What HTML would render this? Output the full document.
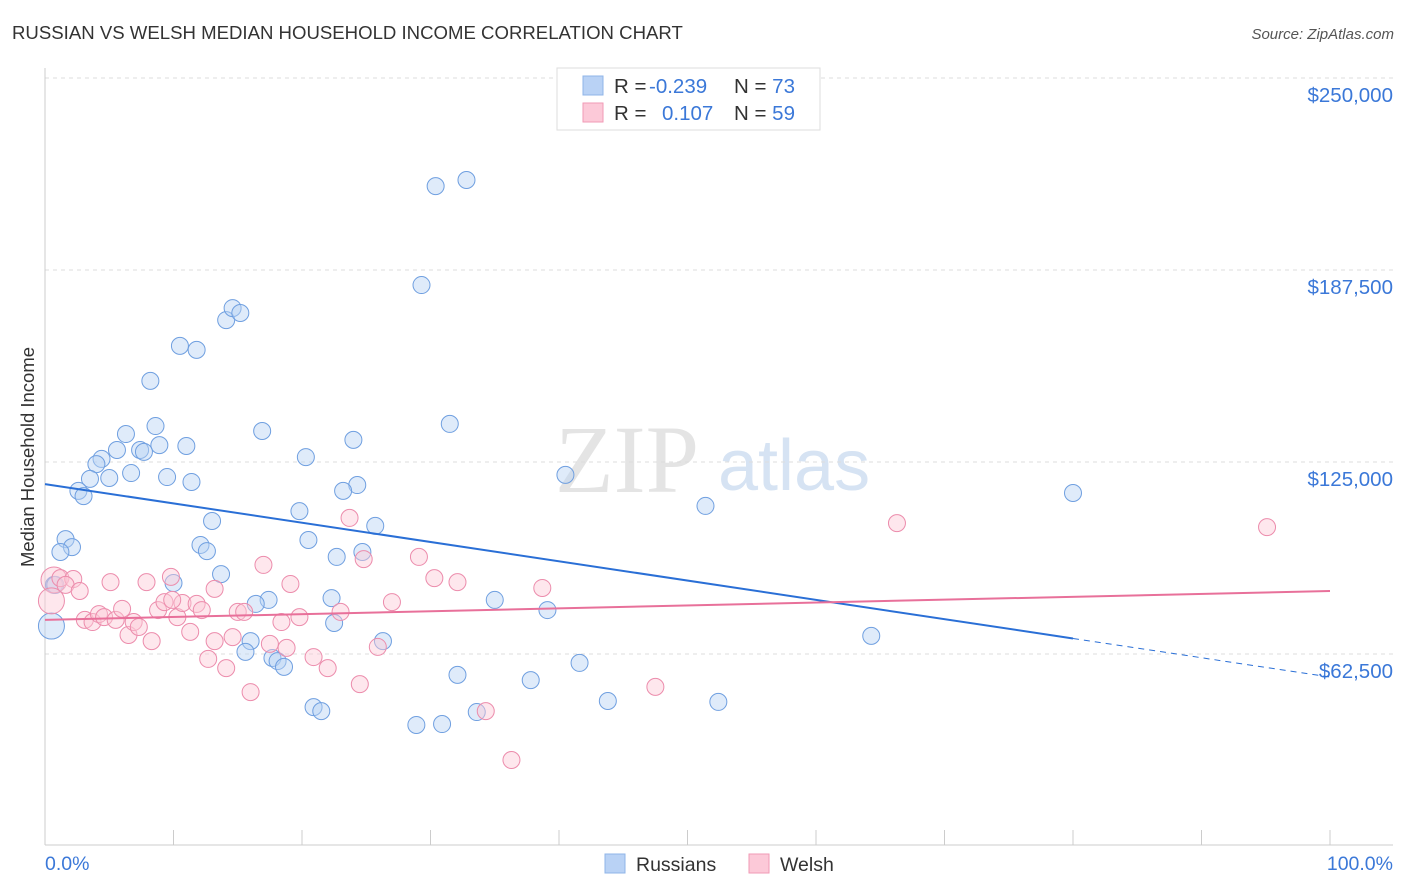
<!DOCTYPE html>
<html><head><meta charset="utf-8"><style>
body{margin:0;background:#fff;font-family:"Liberation Sans",sans-serif;}
</style></head><body>
<svg id="chart" width="1406" height="892" xmlns="http://www.w3.org/2000/svg" style="display:block">
<text x="12" y="39" font-size="18.6" fill="#333">RUSSIAN VS WELSH MEDIAN HOUSEHOLD INCOME CORRELATION CHART</text>
<text x="1394" y="39" font-size="15" fill="#555" text-anchor="end" font-style="italic">Source: ZipAtlas.com</text>
<g>
<text x="555" y="492" font-size="96" font-family="Liberation Serif,serif" fill="#e4e4e4">ZIP</text>
<text x="718" y="490" font-size="72" fill="#d6e3f3">atlas</text>
</g>
<g id="grid"></g>
<g id="axes"></g>
<text transform="translate(34,457) rotate(-90)" font-size="18.5" fill="#333" text-anchor="middle">Median Household Income</text>
<text x="45" y="870" font-size="19.5" fill="#3b78d8">0.0%</text>
<text x="1393" y="870" font-size="19.5" fill="#3b78d8" text-anchor="end">100.0%</text>
<g id="pts"></g>
<g id="lines"></g>
<g>
<rect x="557" y="68" width="263" height="62" fill="#fff" stroke="#ddd"/>
<rect x="583" y="76" width="20" height="19" fill="#b9d2f5" stroke="#8fb4e8"/>
<rect x="583" y="103" width="20" height="19" fill="#fcc9d8" stroke="#f19ab6"/>
<text x="614" y="93" font-size="20.5" fill="#333">R = <tspan x="649" fill="#3b78d8">-0.239</tspan><tspan x="734">N = </tspan><tspan fill="#3b78d8">73</tspan></text>
<text x="614" y="120" font-size="20.5" fill="#333">R = <tspan x="662" fill="#3b78d8">0.107</tspan><tspan x="734">N = </tspan><tspan fill="#3b78d8">59</tspan></text>
</g>
<g>
<rect x="605" y="854" width="20" height="19" fill="#b9d2f5" stroke="#8fb4e8"/>
<text x="636" y="871" font-size="19.5" fill="#333">Russians</text>
<rect x="749" y="854" width="20" height="19" fill="#fcc9d8" stroke="#f19ab6"/>
<text x="780" y="871" font-size="19.5" fill="#333">Welsh</text>
</g>
</svg>
<script>
const yTicks=[62.5,125,187.5,250];
const yTickLabels=["$62,500","$125,000","$187,500","$250,000"];
const rusX=[30.4,32.8,29.3,14.1,14.6,15.2,10.5,11.8,8.2,31.5,8.6,6.3,16.9,24.0,11.0,8.9,5.6,7.4,7.7,4.4,4.0,20.3,6.7,5.0,9.5,11.4,3.5,2.6,3.0,40.5,24.3,23.2,80.0,19.8,51.4,13.0,25.7,1.6,2.1,1.2,20.5,12.1,12.6,24.7,22.7,13.7,0.7,10.0,22.3,35.0,17.4,16.4,39.1,22.5,64.3,26.3,16.0,15.6,17.7,18.1,18.6,41.6,32.1,37.8,43.8,52.4,20.9,21.5,33.6,28.9,30.9,0.5,0.8];
const rusY=[214.8,216.8,182.6,171.2,175.1,173.5,162.8,161.5,151.4,137.4,136.7,134.1,135.1,132.2,130.2,130.5,128.9,128.9,128.3,126.0,124.3,126.6,121.4,119.8,120.1,118.5,119.5,115.6,113.9,120.8,117.5,115.6,114.9,109.0,110.7,105.8,104.2,99.9,97.3,95.7,99.6,98.0,96.0,95.7,94.1,88.5,85.0,85.6,80.7,80.1,80.1,78.8,76.8,72.6,68.4,66.7,66.7,63.2,61.2,60.2,58.3,59.6,55.7,54.0,47.2,46.9,45.2,43.9,43.6,39.4,39.7,71.6,85.0];
const welX=[0.7,0.5,1.2,2.2,1.6,2.7,5.1,7.9,9.8,13.2,17.0,19.1,23.7,24.8,29.1,30.3,32.1,38.7,66.3,95.1,27.0,3.1,3.7,4.2,4.6,5.5,6.0,6.5,6.9,7.3,8.3,8.8,9.3,10.3,10.7,11.3,11.8,12.2,12.7,13.2,14.1,14.6,15.0,15.5,16.0,17.5,18.4,18.8,19.8,20.9,22.0,23.0,24.5,25.9,34.3,36.3,47.5,9.9];
const welY=[86.6,79.8,87.2,86.9,85.0,83.0,85.9,85.9,87.6,83.7,91.5,85.3,106.8,93.4,94.1,87.2,85.9,84.0,105.1,103.8,79.4,73.6,72.9,75.5,74.5,73.6,77.2,68.7,72.9,71.3,66.7,76.8,79.4,74.5,79.1,69.7,78.8,76.8,60.9,66.7,57.9,68.0,76.2,76.2,50.1,65.8,72.9,64.5,74.5,61.5,57.9,76.2,52.7,64.8,43.9,28.0,51.8,80.1];
const rusFit=[117.8,55.0], rusSolidEnd=80;
const welFit=[73.6,83.0];
const NS="http://www.w3.org/2000/svg";
const X=p=>45+p*12.85, Y=v=>654-(v-62.5)*192/62.5;
function mk(t,a,parent){const e=document.createElementNS(NS,t);for(const k in a)e.setAttribute(k,a[k]);document.getElementById(parent).appendChild(e);return e;}
yTicks.forEach((v,i)=>{
 const l=mk('line',{x1:45,x2:1393,y1:Y(v),y2:Y(v),stroke:'#ddd','stroke-dasharray':'4,4'},'grid');
 
 
 const t=mk('text',{x:1393,y:Y(v)+24,'font-size':20.5,fill:'#3b78d8','text-anchor':'end'},'grid');
 t.textContent=yTickLabels[i];
 
 
});
const ax=mk('line',{x1:45,x2:45,y1:68,y2:845,stroke:'#ccc'},'axes');


const bx=mk('line',{x1:45,x2:1393,y1:845,y2:845,stroke:'#ccc'},'axes');


for(let i=0;i<=10;i++){
 const t=mk('line',{x1:X(i*10),x2:X(i*10),y1:830,y2:845,stroke:'#ccc'},'axes');
 
 
}
function pts(xs,ys,fill,stroke,name,bigIdx){
 xs.forEach((x,i)=>{
  const r=bigIdx.includes(i)?13:8.5;
  const c=mk('circle',{cx:X(x),cy:Y(ys[i]),r:r,fill:fill,'fill-opacity':0.45,stroke:stroke,'stroke-width':1},'pts');
  
  
 });
}
pts(rusX,rusY,'#b9d2f5','#6f9fe0','russian-point',[71]);
pts(welX,welY,'#fcc9d8','#ec8cac','welsh-point',[0,1]);
const fy=(f,x)=>f[0]+(f[1]-f[0])*x/100;
let l1=mk('line',{x1:X(0),y1:Y(fy(rusFit,0)),x2:X(rusSolidEnd),y2:Y(fy(rusFit,rusSolidEnd)),stroke:'#2a6fd6','stroke-width':2},'lines');


let l2=mk('line',{x1:X(rusSolidEnd),y1:Y(fy(rusFit,rusSolidEnd)),x2:X(100),y2:Y(fy(rusFit,100)),stroke:'#2a6fd6','stroke-width':1,'stroke-dasharray':'6,5'},'lines');


let l3=mk('line',{x1:X(0),y1:Y(fy(welFit,0)),x2:X(100),y2:Y(fy(welFit,100)),stroke:'#e8709a','stroke-width':2},'lines');


</script>
</body></html>
